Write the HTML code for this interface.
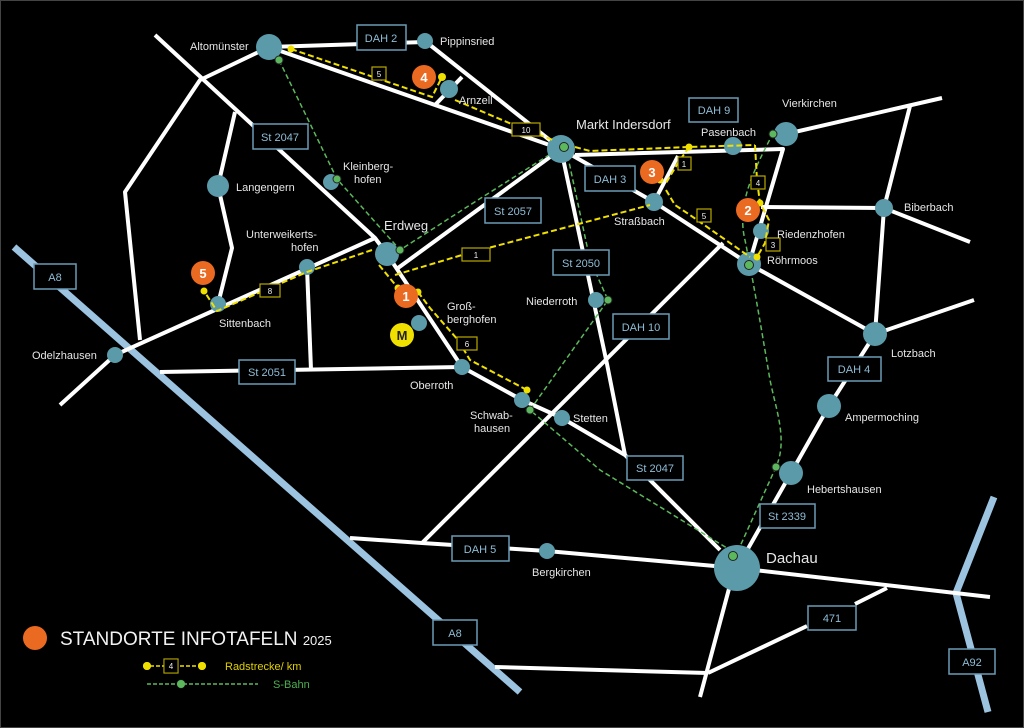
<!DOCTYPE html>
<html><head><meta charset="utf-8"><style>
html,body{margin:0;padding:0;background:#000}
svg{display:block}
text{font-family:"Liberation Sans",sans-serif}
.lb{fill:#e6e6e6;font-size:11px}
.bx rect{fill:#000;stroke:#6c9cb6;stroke-width:1.5}
.bx text{fill:#8fbdd6;font-size:11px;text-anchor:middle}
.yb rect{fill:#000;stroke:#b8a800;stroke-width:1.2}
.yb text{fill:#eee;font-size:8px;text-anchor:middle}
</style></head><body>
<svg width="1024" height="728" viewBox="0 0 1024 728" xmlns="http://www.w3.org/2000/svg">
<rect x="0.5" y="0.5" width="1023" height="727" fill="#000" stroke="#444"/>
<!-- motorways -->
<g stroke="#9cc4e0" stroke-width="7" fill="none">
<line x1="14" y1="247" x2="520" y2="692"/>
<polyline points="994,497 956,593 988,712"/>
</g>
<!-- roads -->
<g stroke="#fff" stroke-width="4" fill="none" stroke-linejoin="round" stroke-linecap="butt">
<line x1="269" y1="47" x2="425" y2="42"/>
<line x1="425" y1="41" x2="561" y2="149"/>
<line x1="269" y1="47" x2="561" y2="149"/>
<line x1="435" y1="105" x2="462" y2="77"/>
<polyline points="155,35 375,238 387,254 462,367 522,400 562,418 625,455 720,550"/>
<polyline points="269,47 200,80 125,192 140,340"/>
<polyline points="235,112 218,186 232,248 218,304"/>
<line x1="398" y1="268" x2="561" y2="149"/>
<polyline points="60,405 115,355 375,238"/>
<line x1="307" y1="267" x2="311" y2="370"/>
<line x1="160" y1="372" x2="462" y2="367"/>
<polyline points="561,149 654,202 749,264 875,334"/>
<polyline points="575,155 783,149 749,264"/>
<line x1="654" y1="202" x2="678" y2="156"/>
<line x1="786" y1="134" x2="942" y2="98"/>
<polyline points="910,106 884,208 875,334"/>
<polyline points="761,207 884,208 970,242"/>
<line x1="875" y1="334" x2="974" y2="300"/>
<polyline points="875,334 829,406 791,473 737,568"/>
<polyline points="561,149 607,364 625,455"/>
<line x1="723" y1="243" x2="422" y2="543"/>
<polyline points="350,538 422,543 547,551 737,568 990,597"/>
<line x1="730" y1="585" x2="700" y2="697"/>
<polyline points="708,673 807,626"/>
<line x1="855" y1="604" x2="887" y2="588"/>
<line x1="495" y1="667" x2="708" y2="673"/>
</g>
<!-- S-Bahn -->
<g stroke="#5cb85c" stroke-width="1.5" stroke-dasharray="5,3" fill="none">
<polyline points="279,60 337,179 400,250 470,205 560,148"/>
<polyline points="566,148 590,260 608,300 530,410 600,470 735,553"/>
<path d="M773,133 C760,160 735,200 745,240 C752,275 760,320 770,380 C776,410 788,440 776,467 L737,553"/>
</g>
<!-- nodes -->
<g fill="#5b9aa9">
<circle cx="269" cy="47" r="13"/><circle cx="425" cy="41" r="8"/><circle cx="449" cy="89" r="9"/>
<circle cx="561" cy="149" r="14"/><circle cx="733" cy="146" r="9"/><circle cx="786" cy="134" r="12"/>
<circle cx="218" cy="186" r="11"/><circle cx="331" cy="182" r="8"/><circle cx="387" cy="254" r="12"/>
<circle cx="307" cy="267" r="8"/><circle cx="218" cy="304" r="8"/><circle cx="115" cy="355" r="8"/>
<circle cx="654" cy="202" r="9"/><circle cx="884" cy="208" r="9"/><circle cx="761" cy="231" r="8"/>
<circle cx="749" cy="264" r="12"/><circle cx="596" cy="300" r="8"/><circle cx="419" cy="323" r="8"/>
<circle cx="462" cy="367" r="8"/><circle cx="522" cy="400" r="8"/><circle cx="562" cy="418" r="8"/>
<circle cx="875" cy="334" r="12"/><circle cx="829" cy="406" r="12"/><circle cx="791" cy="473" r="12"/>
<circle cx="737" cy="568" r="23"/><circle cx="547" cy="551" r="8"/>
</g>
<!-- bike routes -->
<g stroke="#f0e000" stroke-width="2" stroke-dasharray="6,3" fill="none">
<polyline points="291,49 432,97 442,77"/>
<polyline points="455,100 521,128 553,140"/>
<polyline points="575,147 590,151 689,147 755,145"/>
<polyline points="689,147 678,163 666,183"/>
<polyline points="666,190 675,205 690,215 750,257"/>
<polyline points="755,145 757,180 760,203 769,220 765,243 757,257"/>
<polyline points="379,265 398,288"/>
<polyline points="395,275 462,255 650,205"/>
<polyline points="372,250 307,272 217,311 204,291"/>
<polyline points="418,292 430,308 458,340 470,360 527,390"/>
</g>
<g fill="#f0e000">
<circle cx="291" cy="49" r="3.5"/><circle cx="442" cy="77" r="4"/><circle cx="689" cy="147" r="3.5"/>
<circle cx="660" cy="180" r="3.5"/><circle cx="760" cy="203" r="3.5"/><circle cx="757" cy="257" r="3.5"/>
<circle cx="398" cy="288" r="3.5"/><circle cx="418" cy="292" r="3.5"/><circle cx="527" cy="390" r="3.5"/>
<circle cx="204" cy="291" r="3.5"/><circle cx="147" cy="666" r="4"/><circle cx="202" cy="666" r="4"/>
</g>
<g fill="#5cb85c" stroke="#222" stroke-width="1">
<circle cx="279" cy="60" r="4"/><circle cx="337" cy="179" r="4"/><circle cx="400" cy="250" r="4"/>
<circle cx="564" cy="147" r="4.5"/><circle cx="608" cy="300" r="4"/><circle cx="530" cy="410" r="4"/>
<circle cx="773" cy="134" r="4"/><circle cx="749" cy="265" r="4.5"/><circle cx="776" cy="467" r="4"/>
<circle cx="733" cy="556" r="4.5"/><circle cx="181" cy="684" r="4"/>
</g>
<!-- yellow km boxes -->
<g class="yb">
<g><rect x="372" y="67" width="14" height="13"/><text x="379" y="77">5</text></g>
<g><rect x="512" y="123" width="28" height="13"/><text x="526" y="133">10</text></g>
<g><rect x="678" y="157" width="13" height="13"/><text x="684" y="167">1</text></g>
<g><rect x="697" y="209" width="14" height="13"/><text x="704" y="219">5</text></g>
<g><rect x="751" y="176" width="14" height="13"/><text x="758" y="186">4</text></g>
<g><rect x="766" y="238" width="14" height="13"/><text x="773" y="248">3</text></g>
<g><rect x="462" y="248" width="28" height="13"/><text x="476" y="258">1</text></g>
<g><rect x="260" y="284" width="20" height="13"/><text x="270" y="294">8</text></g>
<g><rect x="457" y="337" width="20" height="13"/><text x="467" y="347">6</text></g>
<g><rect x="164" y="659" width="14" height="14"/><text x="171" y="669">4</text></g>
</g>
<!-- road boxes -->
<g class="bx">
<g><rect x="357" y="25" width="49" height="25"/><text x="381" y="42">DAH 2</text></g>
<g><rect x="253" y="124" width="55" height="25"/><text x="280" y="141">St 2047</text></g>
<g><rect x="485" y="198" width="56" height="25"/><text x="513" y="215">St 2057</text></g>
<g><rect x="689" y="98" width="49" height="24"/><text x="714" y="114">DAH 9</text></g>
<g><rect x="585" y="166" width="50" height="25"/><text x="610" y="183">DAH 3</text></g>
<g><rect x="553" y="250" width="56" height="25"/><text x="581" y="267">St 2050</text></g>
<g><rect x="613" y="314" width="56" height="25"/><text x="641" y="331">DAH 10</text></g>
<g><rect x="34" y="264" width="42" height="25"/><text x="55" y="281">A8</text></g>
<g><rect x="239" y="360" width="56" height="24"/><text x="267" y="376">St 2051</text></g>
<g><rect x="828" y="357" width="53" height="24"/><text x="854" y="373">DAH 4</text></g>
<g><rect x="627" y="456" width="56" height="24"/><text x="655" y="472">St 2047</text></g>
<g><rect x="760" y="504" width="55" height="24"/><text x="787" y="520">St 2339</text></g>
<g><rect x="452" y="536" width="57" height="25"/><text x="480" y="553">DAH 5</text></g>
<g><rect x="808" y="606" width="48" height="24"/><text x="832" y="622">471</text></g>
<g><rect x="433" y="620" width="44" height="25"/><text x="455" y="637">A8</text></g>
<g><rect x="949" y="649" width="46" height="25"/><text x="972" y="666">A92</text></g>
</g>
<!-- markers -->
<g fill="#ea6a21"><circle cx="406" cy="296" r="12"/><circle cx="748" cy="210" r="12"/><circle cx="652" cy="172" r="12"/><circle cx="424" cy="77" r="12"/><circle cx="203" cy="273" r="12"/><circle cx="35" cy="638" r="12"/></g>
<circle cx="402" cy="335" r="12" fill="#f0e000"/>
<g fill="#fff" font-size="13" font-weight="bold" text-anchor="middle">
<text x="406" y="301">1</text><text x="748" y="215">2</text><text x="652" y="177">3</text><text x="424" y="82">4</text><text x="203" y="278">5</text>
</g>
<text x="402" y="340" font-size="13" font-weight="bold" text-anchor="middle" fill="#222">M</text>
<!-- labels -->
<g class="lb">
<text x="190" y="50">Altomünster</text><text x="440" y="45">Pippinsried</text><text x="459" y="104">Arnzell</text>
<text x="576" y="129" font-size="13">Markt Indersdorf</text><text x="701" y="136">Pasenbach</text><text x="782" y="107">Vierkirchen</text>
<text x="236" y="191">Langengern</text><text x="343" y="170">Kleinberg-</text><text x="354" y="183">hofen</text>
<text x="384" y="230" font-size="13">Erdweg</text><text x="246" y="238">Unterweikerts-</text><text x="291" y="251">hofen</text>
<text x="219" y="327">Sittenbach</text><text x="32" y="359">Odelzhausen</text><text x="614" y="225">Straßbach</text>
<text x="904" y="211">Biberbach</text><text x="777" y="238">Riedenzhofen</text><text x="767" y="264">Röhrmoos</text>
<text x="526" y="305">Niederroth</text><text x="447" y="310">Groß-</text><text x="447" y="323">berghofen</text>
<text x="410" y="389">Oberroth</text><text x="470" y="419">Schwab-</text><text x="474" y="432">hausen</text>
<text x="573" y="422">Stetten</text><text x="891" y="357">Lotzbach</text><text x="845" y="421">Ampermoching</text>
<text x="807" y="493">Hebertshausen</text><text x="766" y="563" font-size="15">Dachau</text><text x="532" y="576">Bergkirchen</text>
</g>
<!-- legend -->
<text x="60" y="645" font-size="19" fill="#f2f2f2">STANDORTE INFOTAFELN <tspan font-size="13">2025</tspan></text>
<line x1="150" y1="666" x2="200" y2="666" stroke="#f0e000" stroke-width="1.5" stroke-dasharray="4,2"/>
<rect x="164" y="659" width="14" height="14" fill="#000" stroke="#b8a800"/><text x="171" y="669" font-size="8" fill="#eee" text-anchor="middle">4</text>
<circle cx="147" cy="666" r="4" fill="#f0e000"/><circle cx="202" cy="666" r="4" fill="#f0e000"/>
<text x="225" y="670" font-size="11" fill="#e0d000">Radstrecke/ km</text>
<line x1="147" y1="684" x2="258" y2="684" stroke="#5cb85c" stroke-width="1.5" stroke-dasharray="4,2"/>
<circle cx="181" cy="684" r="4" fill="#5cb85c"/>
<text x="273" y="688" font-size="11" fill="#4caf50">S-Bahn</text>
</svg>
</body></html>
